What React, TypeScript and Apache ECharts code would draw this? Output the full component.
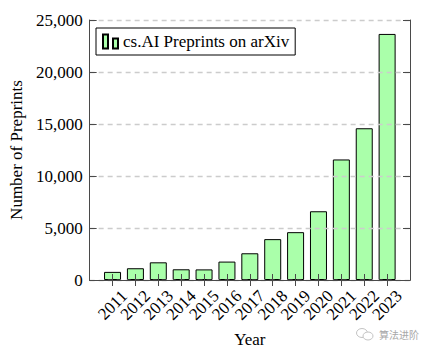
import React, { useEffect, useRef } from "react";
import * as echarts from "echarts";

const years = ["2011","2012","2013","2014","2015","2016","2017","2018","2019","2020","2021","2022","2023"];
const preprints = [780, 1130, 1700, 1030, 1020, 1770, 2570, 3930, 4600, 6610, 11590, 14590, 23660];
const yTicks = [0, 5000, 10000, 15000, 20000, 25000];
const seriesName = "cs.AI Preprints on arXiv";
const xTitle = "Year";
const yTitle = "Number of Preprints";
const watermark = "算法进阶";

const FONT = "'Liberation Serif', 'Times New Roman', serif";
const FRAME = "#4a4a4a";

export default function App() {
  const ref = useRef<HTMLDivElement>(null);
  useEffect(() => {
    if (!ref.current) return;
    const chart = echarts.init(ref.current, null, { renderer: "svg" });
    const cats = ["2010", ...years, "2024"];
    const data = [null, ...preprints, null];
    const last = cats.length - 1;
    const tickShow = (i: number) => i > 0 && i < last;
    const yMin = yTicks[0];
    const yMax = yTicks[yTicks.length - 1];
    const yInt = yTicks[1] - yTicks[0];
    chart.setOption({
      animation: false,
      backgroundColor: "#fff",
      grid: { left: 87, right: 22, top: 20, bottom: 72 },
      legend: {
        left: 96,
        top: 28,
        data: [seriesName],
        icon: "path://M0,0H5V14H0Z M10,4H15V14H10Z",
        itemWidth: 15,
        itemHeight: 14,
        borderColor: "#000",
        borderWidth: 1,
        backgroundColor: "#fff",
        padding: [5, 6, 5, 6],
        textStyle: { fontFamily: FONT, fontSize: 17, color: "#000" },
      },
      xAxis: [
        {
          type: "category",
          data: cats,
          boundaryGap: false,
          position: "bottom",
          z: 3,
          name: xTitle,
          nameLocation: "middle",
          nameGap: 51,
          nameTextStyle: { fontFamily: FONT, fontSize: 17, color: "#000" },
          axisLine: { show: true, lineStyle: { color: FRAME, width: 1 } },
          axisTick: { show: true, inside: false, length: 6, interval: tickShow, lineStyle: { color: FRAME } },
          axisLabel: {
            interval: 0,
            showMinLabel: true,
            showMaxLabel: true,
            hideOverlap: false,
            formatter: (v: string, i: number) => (i > 0 && i < last ? v : ""),
            rotate: 45,
            align: "center",
            verticalAlign: "middle",
            margin: 25,
            fontFamily: FONT,
            fontSize: 17,
            color: "#000",
          },
          splitLine: { show: false },
        },
        {
          type: "category",
          data: cats,
          boundaryGap: false,
          position: "top",
          z: 3,
          axisLine: { show: true, lineStyle: { color: FRAME, width: 1 } },
          axisTick: { show: true, inside: false, length: 6, interval: tickShow, lineStyle: { color: FRAME } },
          axisLabel: { show: false },
          splitLine: { show: false },
        },
      ],
      yAxis: [
        {
          type: "value",
          min: yMin,
          max: yMax,
          interval: yInt,
          position: "left",
          z: 3,
          name: yTitle,
          nameLocation: "middle",
          nameGap: 62,
          nameTextStyle: { fontFamily: FONT, fontSize: 17, color: "#000" },
          axisLine: { show: true, lineStyle: { color: FRAME, width: 1 } },
          axisTick: { show: true, inside: true, length: 7, lineStyle: { color: FRAME } },
          axisLabel: {
            margin: 7,
            fontFamily: FONT,
            fontSize: 17,
            color: "#000",
            formatter: (v: number) => v.toLocaleString("en-US"),
          },
          splitLine: { show: true, lineStyle: { color: "#cccccc", width: 1.3, type: [5, 4] } },
        },
        {
          type: "value",
          min: yMin,
          max: yMax,
          interval: yInt,
          position: "right",
          z: 3,
          axisLine: { show: true, lineStyle: { color: FRAME, width: 1 } },
          axisTick: { show: true, inside: true, length: 7, lineStyle: { color: FRAME } },
          axisLabel: { show: false },
          splitLine: { show: false },
        },
      ],
      series: [
        {
          name: seriesName,
          type: "bar",
          xAxisIndex: 0,
          yAxisIndex: 0,
          data,
          barWidth: 17,
          itemStyle: { color: "#aaffaa", borderColor: "#000", borderWidth: 1 },
        },
      ],
      graphic: [
        {
          type: "ellipse",
          shape: { cx: 362, cy: 333, rx: 5.5, ry: 4.5 },
          style: { fill: "none", stroke: "#c4c4c4", lineWidth: 1 },
        },
        {
          type: "ellipse",
          shape: { cx: 368, cy: 336, rx: 5, ry: 4 },
          style: { fill: "#fff", stroke: "#c4c4c4", lineWidth: 1 },
        },
        {
          type: "text",
          x: 379,
          y: 334,
          style: {
            text: watermark,
            fontFamily: "'Noto Sans CJK SC', sans-serif",
            fontSize: 10,
            fill: "#a8a8a8",
            verticalAlign: "middle",
          },
        },
      ],
    });
    return () => chart.dispose();
  }, []);
  return (
    <div
      ref={ref}
      style={{ position: "fixed", left: 0, top: 0, width: 432, height: 353 }}
    />
  );
}
